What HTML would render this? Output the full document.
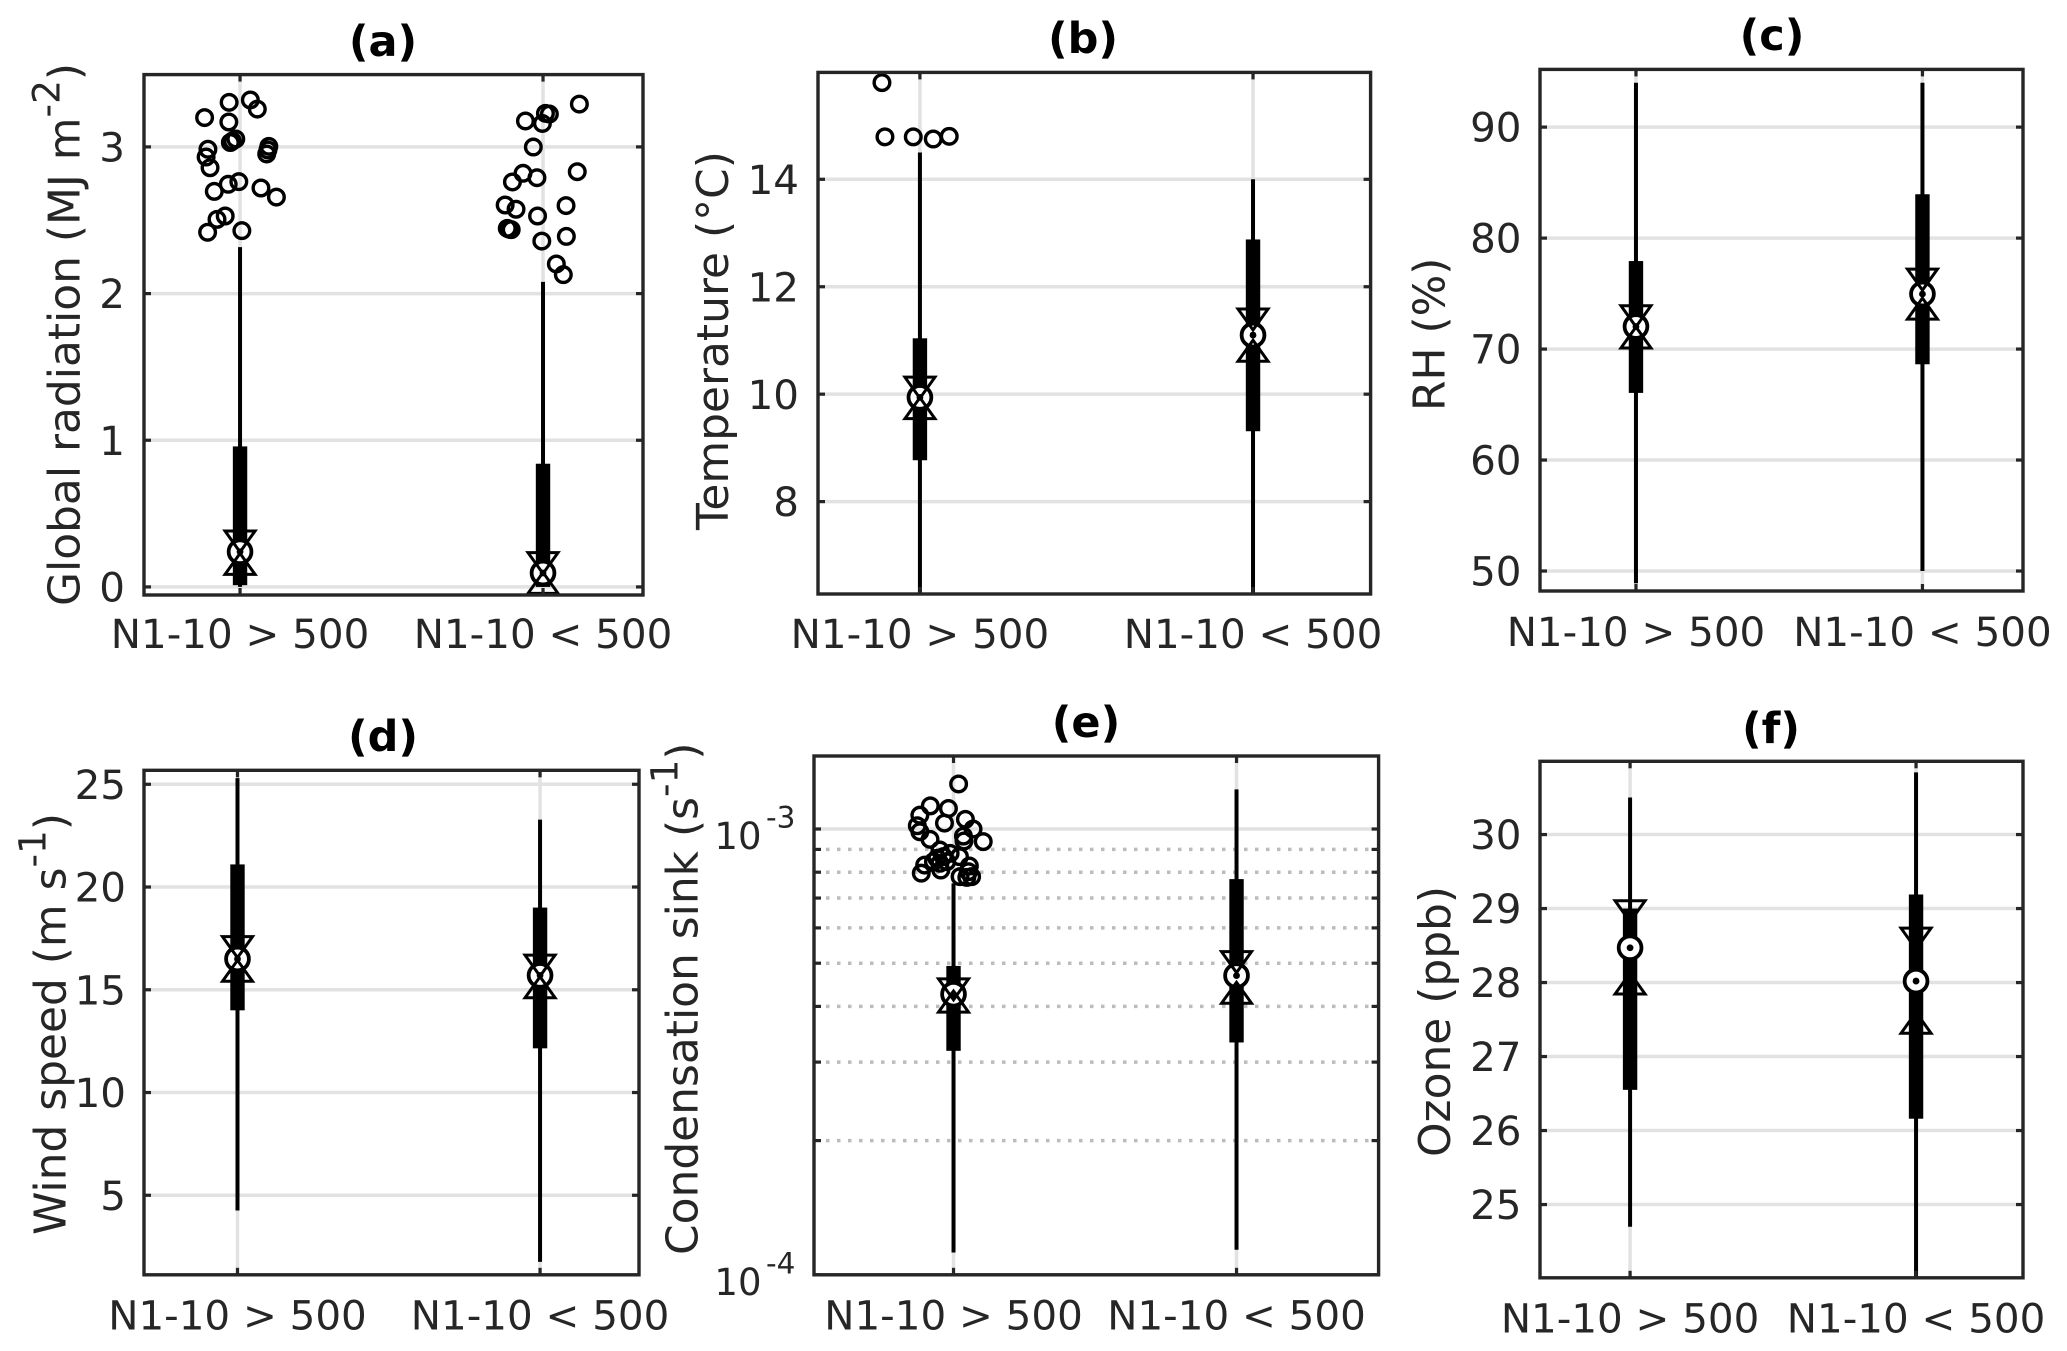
<!DOCTYPE html>
<html lang="en">
<head>
<meta charset="utf-8">
<title>Boxplots by N1-10 class</title>
<style>
html,body{margin:0;padding:0;background:#fff;}
svg{display:block;font-family:"DejaVu Sans","Liberation Sans",sans-serif;}
.ttl{font-size:43px;font-weight:bold;fill:#000;text-anchor:middle;}
.yl{font-size:43.9px;fill:#262626;}
.sup{font-size:37.5px;}
</style>
</head>
<body>
<svg id="fig" xmlns="http://www.w3.org/2000/svg" width="2067" height="1351" viewBox="0 0 2067 1351">
<rect x="0" y="0" width="2067" height="1351" fill="#fff"/>
<g id="plots"></g>

<text class="ttl" x="383" y="56">(a)</text>
<text class="ttl" x="1083" y="53">(b)</text>
<text class="ttl" x="1772" y="50">(c)</text>
<text class="ttl" x="383" y="751">(d)</text>
<text class="ttl" x="1086" y="737">(e)</text>
<text class="ttl" x="1771" y="743">(f)</text>

<text class="yl" transform="translate(79.5,606) rotate(-90)">Global radiation (MJ m<tspan class="sup" dy="-20">-2</tspan><tspan dy="20">)</tspan></text>
<text class="yl" transform="translate(728,530) rotate(-90)">Temperature (°C)</text>
<text class="yl" transform="translate(1444.5,411) rotate(-90)">RH (%)</text>
<text class="yl" transform="translate(65.6,1235) rotate(-90)">Wind speed (m s<tspan class="sup" dy="-20">-1</tspan><tspan dy="20">)</tspan></text>
<text class="yl" transform="translate(697.5,1255) rotate(-90)">Condensation sink (s<tspan class="sup" dy="-20">-1</tspan><tspan dy="20">)</tspan></text>
<text class="yl" transform="translate(1450,1157) rotate(-90)">Ozone (ppb)</text>
</svg>

<script>
// ---------- shared categories ----------
const categories = ['N1-10 > 500', 'N1-10 < 500'];

// ---------- panel a: global radiation ----------
const aTicks = [0, 1, 2, 3];
const aWhiskerHigh = [2.317, 2.08];
const aWhiskerLow = [0, 0];
const aQ3 = [0.958, 0.84];
const aQ1 = [0.012, 0];
const aMedian = [0.24, 0.095];
const aNotchHigh = [0.313, 0.166];
const aNotchLow = [0.154, 0.024];
const aOutJitter1 = [-0.036,0.034,0.057,-0.117,-0.037,-0.014,-0.025,-0.032,0.095,0.092,0.088,-0.106,-0.112,-0.099,-0.085,-0.039,-0.004,0.069,0.12,-0.049,-0.076,-0.107,0.006];
const aOutValue1 = [3.304,3.32,3.258,3.2,3.17,3.054,3.04,3.03,3.004,2.979,2.952,2.984,2.931,2.858,2.697,2.745,2.763,2.72,2.658,2.529,2.506,2.418,2.429];
const aOutJitter2 = [0.12,0.008,0.021,-0.002,-0.058,-0.032,-0.066,-0.02,-0.101,0.113,-0.125,-0.089,0.076,-0.018,-0.118,-0.111,-0.105,-0.004,0.077,0.044,0.067];
const aOutValue2 = [3.292,3.229,3.224,3.16,3.177,2.999,2.82,2.79,2.761,2.831,2.604,2.575,2.6,2.529,2.445,2.438,2.436,2.358,2.39,2.202,2.129];

// ---------- panel b: temperature ----------
const bTicks = [8, 10, 12, 14];
const bWhiskerHigh = [14.5, 14.0];
const bWhiskerLow = [6.3, 6.3];
const bQ3 = [11.04, 12.88];
const bQ1 = [8.77, 9.31];
const bMedian = [9.94, 11.1];
const bNotchHigh = [10.13, 11.4];
const bNotchLow = [9.73, 10.8];
const bOutJitter1 = [-0.114,-0.105,-0.02,0.04,0.088];
const bOutValue1 = [15.8,14.79,14.79,14.75,14.8];
const bOutJitter2 = [];
const bOutValue2 = [];

// ---------- panel c: relative humidity ----------
const cTicks = [50, 60, 70, 80, 90];
const cWhiskerHigh = [94.0, 94.0];
const cWhiskerLow = [48.9, 50];
const cQ3 = [77.93, 83.95];
const cQ1 = [66.05, 68.63];
const cMedian = [72.03, 74.96];
const cNotchHigh = [73.0, 76.3];
const cNotchLow = [71.0, 73.6];
const cOutJitter1 = [];
const cOutValue1 = [];
const cOutJitter2 = [];
const cOutValue2 = [];

// ---------- panel d: wind speed ----------
const dTicks = [5, 10, 15, 20, 25];
const dWhiskerHigh = [25.3, 23.28];
const dWhiskerLow = [4.26, 1.76];
const dQ3 = [21.1, 19.0];
const dQ1 = [14.0, 12.15];
const dMedian = [16.5, 15.7];
const dNotchHigh = [17.1, 16.2];
const dNotchLow = [15.9, 15.1];
const dOutJitter1 = [];
const dOutValue1 = [];
const dOutJitter2 = [];
const dOutValue2 = [];

// ---------- panel e: condensation sink (log axis) ----------
const eTicks = [1e-4, 1e-3];
const eTickExponents = ['-4', '-3'];
const eMinorTicks = [2e-4,3e-4,4e-4,5e-4,6e-4,7e-4,8e-4,9e-4];
const eWhiskerHigh = [7.55e-4, 1.227e-3];
const eWhiskerLow = [1.122e-4, 1.138e-4];
const eQ3 = [4.93e-4, 7.72e-4];
const eQ1 = [3.18e-4, 3.32e-4];
const eMedian = [4.26e-4, 4.69e-4];
const eNotchHigh = [4.38e-4, 5.04e-4];
const eNotchLow = [4.09e-4, 4.28e-4];
const eOutJitter1 = [0.018,-0.082,-0.018,-0.119,-0.032,0.042,-0.128,-0.119,0.069,0.035,0.037,0.105,-0.083,-0.048,-0.012,0.021,-0.059,-0.036,-0.071,-0.024,-0.048,-0.102,-0.045,0.056,0.053,-0.114,0.023,0.064,0.047];
const eOutValue1 = [1.262e-3,1.127e-3,1.112e-3,1.074e-3,1.031e-3,1.051e-3,1.017e-3,9.86e-4,1e-3,9.64e-4,9.4e-4,9.37e-4,9.48e-4,8.97e-4,8.82e-4,8.67e-4,8.59e-4,8.67e-4,8.45e-4,8.45e-4,8.38e-4,8.3e-4,8.09e-4,8.26e-4,8.02e-4,7.96e-4,7.82e-4,7.82e-4,7.79e-4];
const eOutJitter2 = [];
const eOutValue2 = [];

// ---------- panel f: ozone ----------
const fTicks = [25, 26, 27, 28, 29, 30];
const fWhiskerHigh = [30.5, 30.84];
const fWhiskerLow = [24.7, 24.01];
const fQ3 = [29.0, 29.19];
const fQ1 = [26.55, 26.16];
const fMedian = [28.47, 28.02];
const fNotchHigh = [28.97, 28.6];
const fNotchLow = [27.98, 27.45];
const fOutJitter1 = [];
const fOutValue1 = [];
const fOutJitter2 = [];
const fOutValue2 = [];

// ---------- layout ----------
const panels = [
  {id:'a', L:144, R:643, T:74.6, B:595, xlim:[0.683,2.33], ylim:[-0.055,3.493], ticks:aTicks, tickRight:125, xBase:648,
   wh:aWhiskerHigh, wl:aWhiskerLow, q3:aQ3, q1:aQ1, med:aMedian, nh:aNotchHigh, nl:aNotchLow,
   oj:[aOutJitter1,aOutJitter2], ov:[aOutValue1,aOutValue2]},
  {id:'b', L:818, R:1370.6, T:72.4, B:594, xlim:[0.694,2.353], ylim:[6.28,15.99], ticks:bTicks, tickRight:799, xBase:648,
   wh:bWhiskerHigh, wl:bWhiskerLow, q3:bQ3, q1:bQ1, med:bMedian, nh:bNotchHigh, nl:bNotchLow,
   oj:[bOutJitter1,bOutJitter2], ov:[bOutValue1,bOutValue2]},
  {id:'c', L:1540, R:2023, T:69.4, B:591, xlim:[0.665,2.351], ylim:[48.2,95.2], ticks:cTicks, tickRight:1521.5, xBase:646,
   wh:cWhiskerHigh, wl:cWhiskerLow, q3:cQ3, q1:cQ1, med:cMedian, nh:cNotchHigh, nl:cNotchLow,
   oj:[cOutJitter1,cOutJitter2], ov:[cOutValue1,cOutValue2]},
  {id:'d', L:144, R:639, T:770.3, B:1274.8, xlim:[0.691,2.327], ylim:[1.13,25.68], ticks:dTicks, tickRight:126, xBase:1329.5,
   wh:dWhiskerHigh, wl:dWhiskerLow, q3:dQ3, q1:dQ1, med:dMedian, nh:dNotchHigh, nl:dNotchLow,
   oj:[dOutJitter1,dOutJitter2], ov:[dOutValue1,dOutValue2]},
  {id:'e', L:814, R:1378.6, T:756, B:1274.8, xlim:[0.507,2.502], ylim:[1e-4,1.458e-3], log:true, ticks:eTicks, minor:eMinorTicks, exps:eTickExponents, tickRight:761.5, xBase:1329.5,
   wh:eWhiskerHigh, wl:eWhiskerLow, q3:eQ3, q1:eQ1, med:eMedian, nh:eNotchHigh, nl:eNotchLow,
   oj:[eOutJitter1,eOutJitter2], ov:[eOutValue1,eOutValue2]},
  {id:'f', L:1540, R:2023, T:761.3, B:1277.8, xlim:[0.685,2.374], ylim:[24.01,30.99], ticks:fTicks, tickRight:1521.5, xBase:1332.5,
   wh:fWhiskerHigh, wl:fWhiskerLow, q3:fQ3, q1:fQ1, med:fMedian, nh:fNotchHigh, nl:fNotchLow,
   oj:[fOutJitter1,fOutJitter2], ov:[fOutValue1,fOutValue2]}
];

const NS = 'http://www.w3.org/2000/svg';
const INK = '#262626';
const GRID = '#e2e2e2';
const root = document.getElementById('plots');

function make(tag, attrs, parent) {
  const node = document.createElementNS(NS, tag);
  for (const k in attrs) node.setAttribute(k, attrs[k]);
  parent.appendChild(node);
  return node;
}

function drawPanel(p) {
  const sx = v => p.L + (v - p.xlim[0]) / (p.xlim[1] - p.xlim[0]) * (p.R - p.L);
  const sy = p.log
    ? v => p.B - (Math.log10(v) - Math.log10(p.ylim[0])) / (Math.log10(p.ylim[1]) - Math.log10(p.ylim[0])) * (p.B - p.T)
    : v => p.B - (v - p.ylim[0]) / (p.ylim[1] - p.ylim[0]) * (p.B - p.T);

  const g = make('g', {}, root);
  
  

  const clipId = 'clip-' + p.id;
  const clip = make('clipPath', {id: clipId}, g);
  make('rect', {x: p.L, y: p.T, width: p.R - p.L, height: p.B - p.T}, clip);

  // grid
  const plot = make('g', {'clip-path': 'url(#' + clipId + ')'}, g);
  
  

  categories.forEach((c, i) => {
    const gx = make('line', {x1: sx(i + 1), x2: sx(i + 1), y1: p.T, y2: p.B, stroke: GRID, 'stroke-width': 3.5}, plot);
    
    
  });
  p.ticks.forEach(t => {
    const gy = make('line', {x1: p.L, x2: p.R, y1: sy(t), y2: sy(t), stroke: GRID, 'stroke-width': 3.5}, plot);
    
    
  });
  (p.minor || []).forEach(t => {
    const gm = make('line', {x1: p.L + 12, x2: p.R, y1: sy(t), y2: sy(t), stroke: '#bcbcbc', 'stroke-width': 3.5, 'stroke-dasharray': '3.5 7.5'}, plot);
    
    
  });

  // boxes
  categories.forEach((c, i) => {
    const x = sx(i + 1);
    const box = make('g', {}, plot);
    
    

    const whisker = make('line', {x1: x, x2: x, y1: sy(p.wh[i]), y2: sy(p.wl[i]), stroke: '#000', 'stroke-width': 4}, box);
    
    

    const iqr = make('rect', {x: x - 7.2, width: 14.4, y: sy(p.q3[i]), height: sy(p.q1[i]) - sy(p.q3[i]), fill: '#000'}, box);
    
    

    const medY = sy(p.med[i]);
    const ring = make('circle', {cx: x, cy: medY, r: 11.4, fill: '#fff', stroke: '#000', 'stroke-width': 3.8}, box);
    
    

    const dot = make('circle', {cx: x, cy: medY, r: 3.4, fill: '#000'}, box);
    
    

    const hy = sy(p.nh[i]);
    const down = make('path', {d: 'M' + (x - 15) + ' ' + (hy - 10) + 'H' + (x + 15) + 'L' + x + ' ' + (hy + 11) + 'Z', fill: 'none', stroke: '#000', 'stroke-width': 3}, box);
    
    

    const ly = sy(p.nl[i]);
    const up = make('path', {d: 'M' + (x - 15) + ' ' + (ly + 10) + 'H' + (x + 15) + 'L' + x + ' ' + (ly - 11) + 'Z', fill: 'none', stroke: '#000', 'stroke-width': 3}, box);
    
    

    p.ov[i].forEach((v, k) => {
      const o = make('circle', {cx: sx(i + 1 + p.oj[i][k]), cy: sy(v), r: 7.8, fill: 'none', stroke: '#000', 'stroke-width': 3.4}, box);
      
      
    });
  });

  // ticks
  const tickLine = (x1, y1, x2, y2, name) => {
    const t = make('line', {x1, y1, x2, y2, stroke: INK, 'stroke-width': 3.2}, g);
    
    
  };
  categories.forEach((c, i) => {
    const x = sx(i + 1);
    tickLine(x, p.T, x, p.T + 7, 'x-tick-top');
    tickLine(x, p.B, x, p.B - 7, 'x-tick-bottom');
    const lab = make('text', {x, y: p.xBase, 'text-anchor': 'middle', 'font-size': 40.4, fill: INK}, g);
    
    
    lab.textContent = c;
  });
  p.ticks.concat(p.minor || []).forEach(t => {
    const y = sy(t);
    tickLine(p.L, y, p.L + 7, y, 'y-tick-left');
    tickLine(p.R, y, p.R - 7, y, 'y-tick-right');
  });
  p.ticks.forEach((t, i) => {
    if (p.log) {
      const base = make('text', {x: p.tickRight, y: sy(t) + 20, 'text-anchor': 'end', 'font-size': 37, fill: INK}, g);
      
      
      base.textContent = '10';
      const exp = make('text', {x: p.tickRight + 4.5, y: sy(t) - 1.5, 'font-size': 29.5, fill: INK}, g);
      
      
      exp.textContent = p.exps[i];
    } else {
      const lab = make('text', {x: p.tickRight, y: sy(t) + 14.6, 'text-anchor': 'end', 'font-size': 40.4, fill: INK}, g);
      
      
      lab.textContent = String(t);
    }
  });

  // frame
  const frame = make('rect', {x: p.L, y: p.T, width: p.R - p.L, height: p.B - p.T, fill: 'none', stroke: INK, 'stroke-width': 3.4}, g);
  
  
}

panels.forEach(drawPanel);
</script>
</body>
</html>
